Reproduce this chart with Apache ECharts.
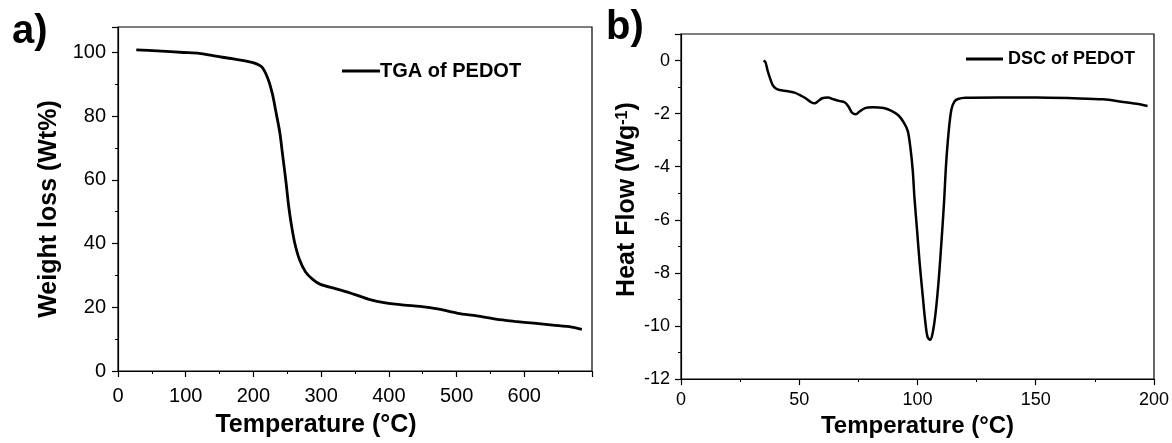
<!DOCTYPE html>
<html>
<head>
<meta charset="utf-8">
<script src="https://cdn.jsdelivr.net/npm/echarts@6/dist/echarts.min.js"></script>
<style>html,body{margin:0;padding:0;background:#fff}#c{width:1172px;height:443px}</style>
</head>
<body>
<div id="c"></div>
<script>
// Panel a: TGA
const tgaTemp = [27, 58, 97, 120, 142, 170, 198, 212, 221, 228, 233, 239, 243, 248, 252, 256, 261, 268, 277, 288, 299, 322, 350, 372, 395, 423, 446, 474, 502, 530, 558, 586, 614, 642, 670, 685];
const tgaWeight = [100.8, 100.5, 100, 99.7, 98.9, 98, 96.9, 95.5, 92, 87, 81.6, 74.8, 68, 59.5, 51.8, 46, 40.2, 35, 31.1, 28.7, 27.2, 25.8, 24, 22.4, 21.4, 20.7, 20.3, 19.4, 18.1, 17.3, 16.3, 15.6, 15, 14.4, 13.8, 13.1];
// Panel b: DSC
const dscTemp = [34.9, 35.7, 36.6, 37.7, 38.8, 40.1, 41.7, 44.8, 48, 50.3, 52.7, 55, 56.6, 57.7, 59.7, 62.1, 64.5, 66.8, 69.2, 70.8, 72.3, 73.9, 75.5, 77.8, 81, 85.7, 88.8, 92, 94.3, 95.9, 97, 98, 98.7, 99.8, 100.9, 102.2, 103.3, 104.2, 105.3, 106.4, 107.7, 109, 110.1, 111.2, 112.1, 113.2, 114.3, 115.6, 117.1, 120.3, 134.4, 150.2, 165.9, 178.5, 186.3, 192.6, 197.3];
const dscHeat = [0, -0.06, -0.37, -0.68, -0.93, -1.05, -1.11, -1.15, -1.21, -1.3, -1.42, -1.57, -1.61, -1.55, -1.42, -1.39, -1.46, -1.52, -1.57, -1.73, -1.96, -2.02, -1.92, -1.79, -1.76, -1.79, -1.89, -2.07, -2.35, -2.66, -3.28, -4.15, -5.14, -6.37, -7.61, -8.85, -9.84, -10.4, -10.52, -10.27, -9.47, -8.23, -6.87, -5.38, -3.9, -2.66, -1.86, -1.55, -1.45, -1.4, -1.39, -1.39, -1.42, -1.46, -1.55, -1.63, -1.71];
const tgaXTicks = [0, 100, 200, 300, 400, 500, 600];
const tgaYTicks = [0, 20, 40, 60, 80, 100];
const dscXTicks = [0, 50, 100, 150, 200];
const dscYTicks = [-12, -10, -8, -6, -4, -2, 0];

const FF = 'Liberation Sans, Arial, sans-serif';
const chart = echarts.init(document.getElementById('c'));

function axisCommon(fs, margin, ticks) {
  return {
    axisLine: {show: true, onZero: false, lineStyle: {color: '#000', width: 1.2}},
    axisTick: {show: true, inside: false, length: 6, lineStyle: {color: '#000', width: 1.2}},
    minorTick: {show: true, splitNumber: 2, length: 3, lineStyle: {color: '#000', width: 1}},
    splitLine: {show: false},
    axisLabel: {color: '#000', fontFamily: FF, fontSize: fs, margin: margin,
      formatter: v => ticks.indexOf(v) >= 0 ? String(v) : ''}
  };
}

chart.setOption({
  backgroundColor: '#fff',
  animation: false,
  grid: [
    {left: 118, right: 580, top: 27, bottom: 67, show: true, borderColor: '#000', borderWidth: 1.2, containLabel: false},
    {left: 681, right: 17, top: 34, bottom: 58, show: true, borderColor: '#000', borderWidth: 1.2, containLabel: false}
  ],
  xAxis: [
    Object.assign(axisCommon(20, 15, tgaXTicks), {
      type: 'value', gridIndex: 0, min: 0, max: 700, interval: 100,
      name: 'Temperature (°C)', nameLocation: 'middle', nameGap: 42,
      nameTextStyle: {color: '#000', fontFamily: FF, fontSize: 25, fontWeight: 'bold', padding: [0, 78, 0, 0]}
    }),
    Object.assign(axisCommon(18, 12, dscXTicks), {
      type: 'value', gridIndex: 1, min: 0, max: 200, interval: 50,
      name: 'Temperature (°C)', nameLocation: 'middle', nameGap: 31,
      nameTextStyle: {color: '#000', fontFamily: FF, fontSize: 24, fontWeight: 'bold'}
    })
  ],
  yAxis: [
    Object.assign(axisCommon(20, 12, tgaYTicks), {
      type: 'value', gridIndex: 0, min: 0, max: 108, interval: 20,
      name: 'Weight loss (Wt%)', nameLocation: 'middle', nameGap: 56,
      nameTextStyle: {color: '#000', fontFamily: FF, fontSize: 25, fontWeight: 'bold', padding: [0, 20, 0, 0]}
    }),
    Object.assign(axisCommon(18, 11, dscYTicks), {
      type: 'value', gridIndex: 1, min: -12, max: 1, interval: 2,
      name: '{a|Heat Flow (Wg}{s|-1}{a|)}', nameLocation: 'middle', nameGap: 39,
      nameTextStyle: {color: '#000', fontFamily: FF, fontSize: 25, fontWeight: 'bold', padding: [0, 0, 0, 14],
        rich: {
          a: {fontFamily: FF, fontSize: 25, fontWeight: 'bold', color: '#000'},
          s: {fontFamily: FF, fontSize: 16, fontWeight: 'bold', color: '#000', verticalAlign: 'top', padding: [0, 0, 10, 0]}
        }}
    })
  ],
  legend: [
    {data: ['TGA of PEDOT'], left: 342, top: 61, padding: 0, icon: 'rect', itemWidth: 38, itemHeight: 3, itemGap: 0,
      textStyle: {color: '#000', fontFamily: FF, fontSize: 20, fontWeight: 'bold', padding: [0, 0, 0, -5]}},
    {data: ['DSC of PEDOT'], left: 966, top: 50, padding: 0, icon: 'rect', itemWidth: 37, itemHeight: 3, itemGap: 0,
      textStyle: {color: '#000', fontFamily: FF, fontSize: 18, fontWeight: 'bold'}}
  ],
  graphic: [
    {type: 'text', left: 12, top: 12, style: {text: 'a)', font: 'bold 40px ' + FF, fill: '#000'}},
    {type: 'text', left: 606, top: 8, style: {text: 'b)', font: 'bold 40px ' + FF, fill: '#000'}}
  ],
  series: [
    {name: 'TGA of PEDOT', type: 'line', xAxisIndex: 0, yAxisIndex: 0, showSymbol: false, symbol: 'none', smooth: 0.3,
      lineStyle: {color: '#000', width: 2.8}, itemStyle: {color: '#000'},
      data: tgaTemp.map((t, i) => [t, tgaWeight[i]])},
    {name: 'DSC of PEDOT', type: 'line', xAxisIndex: 1, yAxisIndex: 1, showSymbol: false, symbol: 'none', smooth: 0.3,
      lineStyle: {color: '#000', width: 2.5}, itemStyle: {color: '#000'},
      data: dscTemp.map((t, i) => [t, dscHeat[i]])}
  ]
});
</script>
</body>
</html>
